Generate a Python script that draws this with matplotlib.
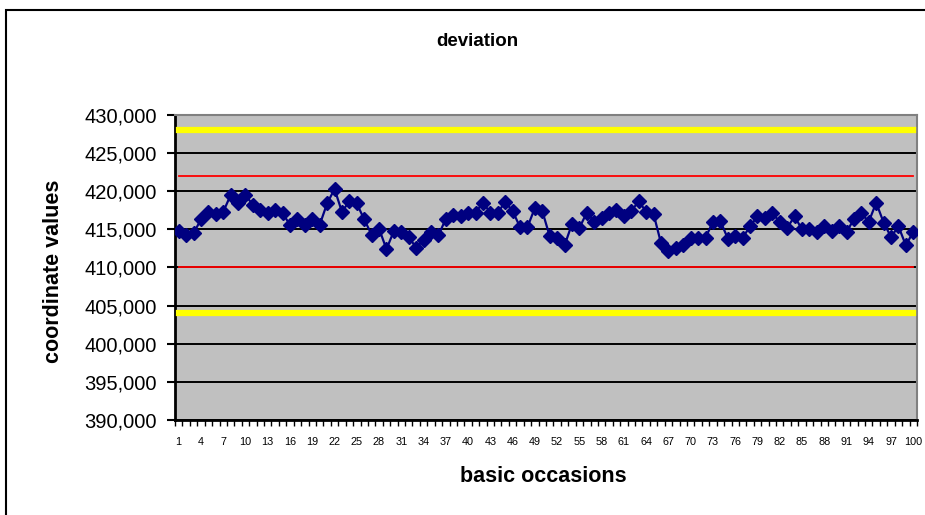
import numpy as np
import matplotlib.pyplot as plt
from matplotlib.patches import Rectangle
from matplotlib.ticker import FuncFormatter

plt.rcParams['font.family'] = ['Liberation Sans', 'DejaVu Sans']

# measured coordinate per basic occasion
occasions = list(range(1, 101))
coords = [
    414800, 414300, 414500, 416300, 417300, 417000, 417300, 419500, 418400, 419500,
    418200, 417600, 417200, 417500, 417100, 415600, 416400, 415600, 416300, 415600,
    418400, 420300, 417300, 418700, 418400, 416300, 414300, 415100, 412400, 414800,
    414600, 414000, 412600, 413600, 414600, 414200, 416400, 416900, 416700, 417200,
    417200, 418500, 417200, 417200, 418600, 417400, 415300, 415300, 417800, 417400,
    414100, 413900, 412900, 415700, 415200, 417200, 416000, 416500, 417200, 417500,
    416800, 417400, 418700, 417300, 417000, 413200, 412100, 412600, 413000, 413900,
    413900, 413900, 416000, 416100, 413800, 414100, 413900, 415400, 416700, 416500,
    417100, 416000, 415200, 416700, 415000, 415000, 414700, 415400, 414800, 415500,
    414700, 416300, 417100, 416000, 418500, 415900, 414000, 415400, 412900, 414700,
]

# control limits
outer_limits = [428000, 404000]
inner_limits = [422000, 410000]

W, H = 925, 515
fig = plt.figure(figsize=(W / 100, H / 100), dpi=100)
ax = fig.add_axes([175 / W, 1 - 420 / H, (917 - 175) / W, (420 - 115) / H])
ax.set_facecolor('#C0C0C0')

for lim in outer_limits:
    ax.plot(occasions, [lim] * len(occasions), color='#FFFF00', lw=4.5, zorder=3)
for lim in inner_limits:
    ax.plot(occasions, [lim] * len(occasions), color='#FF0000', lw=1.3, zorder=3)

ax.plot(occasions, coords, color='#000080', lw=1.6, marker='D', ms=7.3,
        mfc='#000080', mec='#000080', zorder=4)

ax.set_xlim(0.5, 100.5)
ax.set_ylim(390000, 430000)
ax.set_yticks(np.arange(390000, 430001, 5000))
ax.yaxis.set_major_formatter(FuncFormatter(lambda v, p: f'{int(v):,}'))
ax.grid(axis='y', color='black', lw=1.4, zorder=1)
ax.set_axisbelow(True)

# tick marks between categories, labels on every third one
ax.set_xticks(np.arange(0.5, 101, 1.0))
ax.set_xticklabels([])
ax.set_xticks(occasions[::3], minor=True)
ax.set_xticklabels([str(i) for i in occasions[::3]], minor=True)
ax.tick_params(axis='x', which='major', length=4, width=1, direction='out')
ax.tick_params(axis='x', which='minor', length=0, pad=12, labelsize=7.8)
ax.tick_params(axis='y', length=6, width=1.5, direction='out', pad=7, labelsize=14.5)

ax.spines['left'].set_linewidth(2)
ax.spines['bottom'].set_linewidth(2)
for s in ('top', 'right'):
    ax.spines[s].set_color('#808080')
    ax.spines[s].set_linewidth(1.5)

fig.text(477 / W, 1 - 42 / H, 'deviation', ha='center', va='center',
         fontsize=13.5, fontweight='bold')
fig.text(543 / W, 1 - 476 / H, 'basic occasions', ha='center', va='center',
         fontsize=15.5, fontweight='bold')
fig.text(54 / W, 1 - 271 / H, 'coordinate values', ha='center', va='center',
         rotation=90, fontsize=15.5, fontweight='bold')

# chart frame
fig.add_artist(Rectangle((6 / W, -0.1), 1.0, 1 - 10 / H + 0.1, transform=fig.transFigure,
                         fill=False, lw=1.5, ec='black'))

fig.savefig('out.png', dpi=100)
